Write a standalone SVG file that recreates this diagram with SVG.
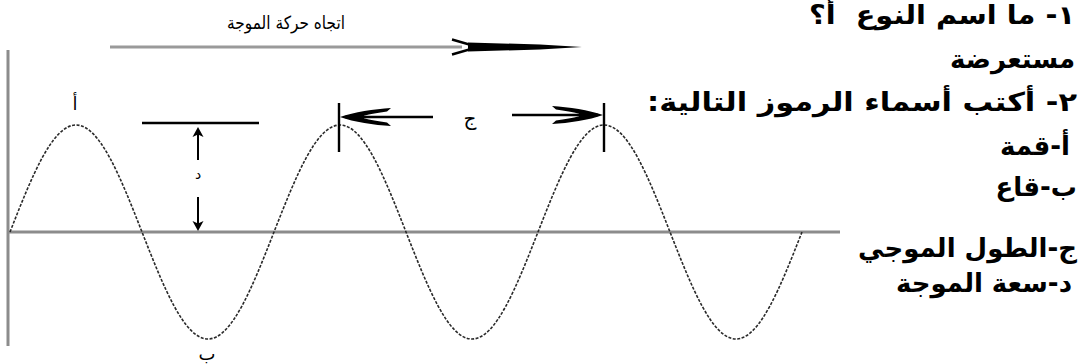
<svg xmlns="http://www.w3.org/2000/svg" xmlns:xlink="http://www.w3.org/1999/xlink" width="1079" height="364" viewBox="0 0 1079 364">
  <style>
    .axis { stroke: #8c8c8c; stroke-width: 3; fill: none; }
    .wave { stroke: #2a2a2a; stroke-width: 1.6; fill: none; stroke-dasharray: 3 1.5; }
    .ink { stroke: #000; stroke-width: 2.4; fill: none; }
    .head { fill: #000; stroke: none; }
    .lbl { font-family: "DejaVu Sans", sans-serif; fill: #000; }
    .q { font-family: "DejaVu Sans", sans-serif; font-weight: bold; font-size: 26px; fill: #000; direction: rtl; text-anchor: start; white-space: pre; }
  </style>
  <defs>
    <path id="headL" d="M0,0 C14,-5 34,-8 51,-9 L47,-5.5 C38,-4.2 30,-3 24,-1.2 L24,1.2 C30,3 38,4.2 47,5.5 L51,9 C34,8 14,5 0,0 Z"/>
    <path id="headSmall" d="M0,0 L5.5,10 L0,7.5 L-5.5,10 Z"/>
  </defs>
  <rect width="1079" height="364" fill="#fff"/>

  <g id="axes">
    <line class="axis" x1="8" y1="50" x2="8" y2="346"/>
    <line class="axis" x1="8" y1="232" x2="840" y2="232"/>
  </g>

  <g id="wave">
    <path class="wave" d="M10,232
      c21.53,-54.81 42.12,-107 66,-107 c23.88,0 44.470,52.19 66,107 c21.53,54.81 42.12,107 66,107 c23.88,0 44.47,-52.19 66,-107
      c21.53,-54.81 42.12,-107 66,-107 c23.88,0 44.47,52.19 66,107 c21.53,54.81 42.12,107 66,107 c23.88,0 44.47,-52.19 66,-107
      c21.53,-54.81 42.12,-107 66,-107 c23.88,0 44.47,52.19 66,107 c21.53,54.81 42.12,107 66,107 c23.88,0 44.47,-52.19 66,-107"/>
  </g>

  <g id="direction-arrow">
    <line x1="110" y1="47" x2="462" y2="47" stroke="#9a9a9a" stroke-width="3"/>
    <polyline class="ink" points="452,39.5 478,47 452,54.5" stroke-width="2.6"/>
    <polygon class="head" points="468,42.5 540,44.5 582,47 540,49.5 468,51.5"/>
    <text class="lbl" x="286" y="29" font-size="18" text-anchor="middle" textLength="118" lengthAdjust="spacingAndGlyphs">اتجاه حركة الموجة</text>
  </g>

  <g id="connectors">
    <line class="ink" x1="339" y1="103" x2="339" y2="152"/>
    <line class="ink" x1="604" y1="103" x2="604" y2="152"/>
    <line class="ink" x1="345" y1="117" x2="433" y2="117"/>
    <use xlink:href="#headL" href="#headL" class="head" transform="translate(340,117)"/>
    <line class="ink" x1="512" y1="115" x2="598" y2="115"/>
    <use xlink:href="#headL" href="#headL" class="head" transform="translate(603,115) scale(-1,1)"/>
    <line class="ink" x1="142" y1="123" x2="259" y2="123"/>
    <line x1="198" y1="132" x2="198" y2="160" stroke="#000" stroke-width="2"/>
    <use xlink:href="#headSmall" href="#headSmall" class="head" transform="translate(198,127)"/>
    <line x1="198" y1="197" x2="198" y2="226" stroke="#000" stroke-width="2"/>
    <use xlink:href="#headSmall" href="#headSmall" class="head" transform="translate(198,231) scale(1,-1)"/>
  </g>

  <g id="labels">
    <text id="label-a" class="lbl" x="75" y="110" font-size="18" text-anchor="middle">أ</text>
    <text id="label-b" class="lbl" x="207" y="360" font-size="18" text-anchor="middle">ب</text>
    <text id="label-d" class="lbl" x="198" y="179" font-size="14" text-anchor="middle">د</text>
    <text id="label-j" class="lbl" x="470" y="125" font-size="20" text-anchor="middle">ج</text>
  </g>

  <g id="questions">
    <text class="q" x="1075" y="24" textLength="266" lengthAdjust="spacingAndGlyphs">١- ما اسم النوع  أ؟</text>
    <text class="q" x="1075" y="68">مستعرضة</text>
    <text class="q" x="1077" y="111" textLength="430" lengthAdjust="spacingAndGlyphs">٢- أكتب أسماء الرموز التالية:</text>
    <text class="q" x="1070" y="155">أ-قمة</text>
    <text class="q" x="1077" y="196">ب-قاع</text>
    <text class="q" x="1077" y="257">ج-الطول الموجي</text>
    <text class="q" x="1072" y="292">د-سعة الموجة</text>
  </g>
</svg>
